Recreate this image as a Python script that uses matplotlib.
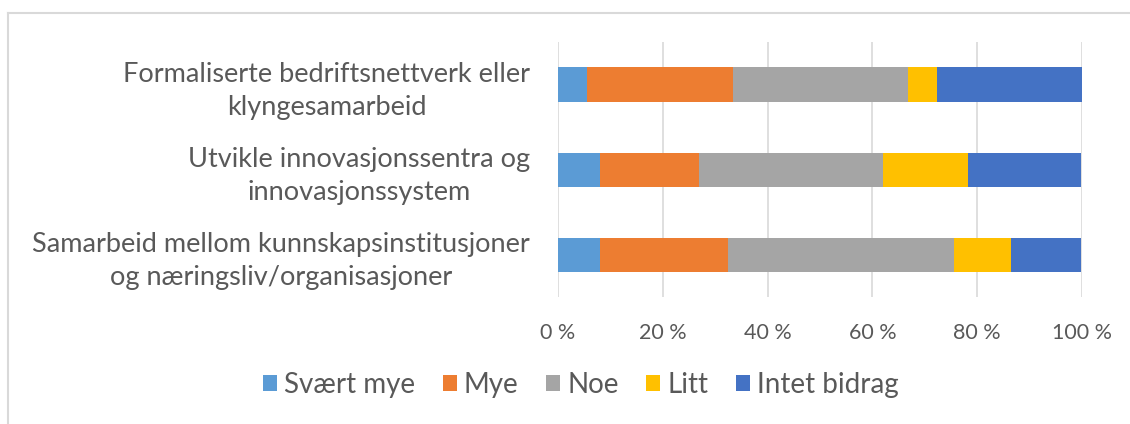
import matplotlib.pyplot as plt
from matplotlib.lines import Line2D
import numpy as np

plt.rcParams['font.family'] = ['Lato', 'DejaVu Sans']

# categories, top to bottom
categories = [
    "Formaliserte bedriftsnettverk eller\nklyngesamarbeid",
    "Utvikle innovasjonssentra og\ninnovasjonssystem",
    "Samarbeid mellom kunnskapsinstitusjoner\nog næringsliv/organisasjoner",
]
series_names = ["Svært mye", "Mye", "Noe", "Litt", "Intet bidrag"]
svaert_mye = [5.6, 8.1, 8.1]
mye = [27.8, 18.9, 24.3]
noe = [33.3, 35.1, 43.2]
litt = [5.6, 16.2, 10.8]
intet = [27.8, 21.6, 13.5]
xticks = [0, 20, 40, 60, 80, 100]
xtick_labels = ["0 %", "20 %", "40 %", "60 %", "80 %", "100 %"]

colors = ["#5B9BD5", "#ED7D31", "#A5A5A5", "#FFC000", "#4472C4"]
text_col = "#595959"

fig = plt.figure(figsize=(11.3, 4.24), dpi=100)

# chart border (only top and left edges visible in the frame)
fig.add_artist(Line2D([8 / 1130, 8 / 1130], [0, 1 - 13 / 424],
                      transform=fig.transFigure, color="#D9D9D9", lw=1.5))
fig.add_artist(Line2D([8 / 1130, 1], [1 - 13 / 424, 1 - 13 / 424],
                      transform=fig.transFigure, color="#D9D9D9", lw=1.5))

ax = fig.add_axes([558 / 1130, 1 - 297 / 424, 524 / 1130, 255 / 424])

y = np.arange(len(categories))[::-1]
left = np.zeros(len(categories))
for name, vals, c in zip(series_names, [svaert_mye, mye, noe, litt, intet], colors):
    ax.barh(y, vals, left=left, height=0.4, color=c, label=name, zorder=3)
    left += np.array(vals)

ax.set_xlim(0, 100)
ax.set_ylim(-0.5, 2.5)
ax.set_xticks(xticks)
ax.set_xticklabels(xtick_labels, fontsize=15.5, color=text_col)
ax.set_yticks(y)
ax.set_yticklabels(categories, fontsize=19.5, color=text_col,
                   multialignment="center", linespacing=1.4)
ax.tick_params(axis="y", length=0, pad=20)
ax.tick_params(axis="x", length=0, pad=19)
ax.grid(axis="x", color="#D9D9D9", lw=1.2, zorder=0)
for s in ax.spines.values():
    s.set_visible(False)

fig.legend(loc="center", bbox_to_anchor=(0.514, 1 - 385 / 424), ncol=5,
           frameon=False, fontsize=20, handlelength=0.5, handleheight=0.5,
           handletextpad=0.25, columnspacing=1.0, labelcolor=text_col)

fig.savefig("out.png", dpi=100)
